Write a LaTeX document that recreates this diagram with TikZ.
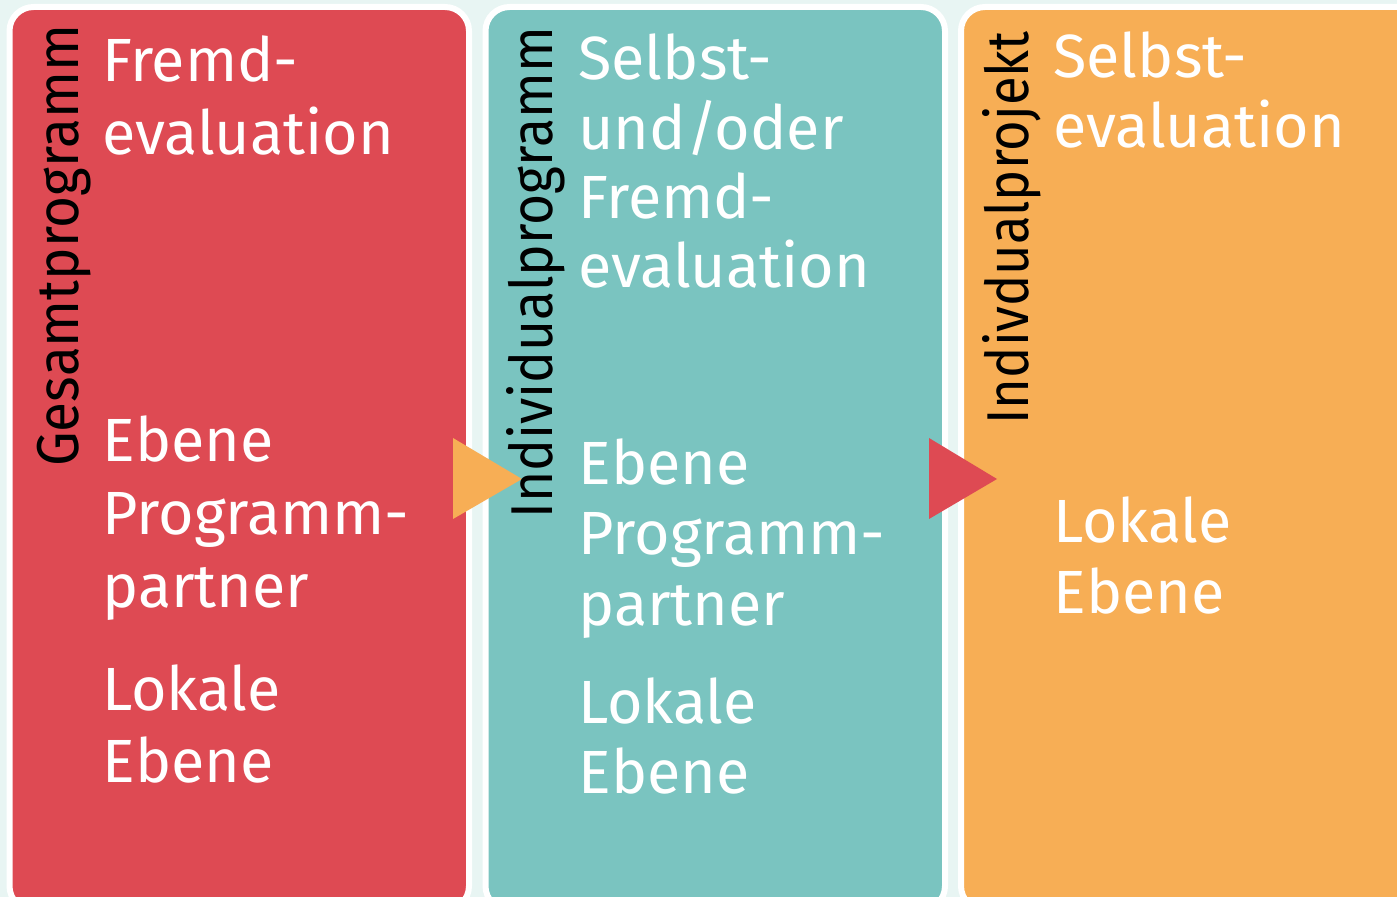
\documentclass[tikz,border=0pt]{standalone}
\usepackage{fontspec}
\setmainfont{Fira Sans}
\definecolor{bgmint}{HTML}{E8F5F3}
\definecolor{progred}{HTML}{DE4A53}
\definecolor{progteal}{HTML}{7AC4C0}
\definecolor{progorange}{HTML}{F7AE55}
\tikzset{
  colbox/.style={draw=white, line width=3pt, rounded corners=12pt},
  txt/.style={text=white, anchor=base west, inner sep=0pt, font=\fontsize{30.5}{36}\selectfont},
  vtxt/.style={text=black, anchor=base west, inner sep=0pt, rotate=90, font=\fontsize{29.5}{36}\selectfont},
}

\begin{document}
\begin{tikzpicture}[x=0.5pt,y=-0.5pt]
  \useasboundingbox (0,0) rectangle (1397,897);
  \fill[bgmint] (0,0) rectangle (1397,897);
  \begin{scope}
    \clip (0,0) rectangle (1397,897);
    % the three columns
    \draw[colbox, fill=progred] (9.5,7) rectangle (469,910);
    \draw[colbox, fill=progteal] (485.5,7) rectangle (945,910);
    \draw[colbox, fill=progorange] (961,7) rectangle (1430,910);
  \end{scope}

  % arrows between the columns
  \fill[progorange] (453,438) -- (522,479) -- (453,519) -- cycle;
  \fill[progred] (929,438) -- (997,479) -- (929,519) -- cycle;

  % side titles
  \node[vtxt, xscale=0.93] (gesamt) at (78,467) {Gesamtprogramm};
  \node[vtxt, xscale=0.905] (indiv) at (552,519) {Individualprogramm};
  \node[vtxt, xscale=0.89] (projekt) at (1028,425) {Indivdualprojekt};

  % Gesamtprogramm
  \foreach \t [count=\i from 0] in {Fremd-,evaluation}
    \node[txt] (g-top-\i) at (102,{82+73*\i}) {\t};
  \foreach \t [count=\i from 0] in {Ebene,Programm-,partner}
    \node[txt] (g-mid-\i) at (102,{462+72.5*\i}) {\t};
  \foreach \t [count=\i from 0] in {Lokale,Ebene}
    \node[txt] (g-low-\i) at (102,{710+72*\i}) {\t};

  % Individualprogramm
  \foreach \t [count=\i from 0] in {Selbst-,und/oder,Fremd-,evaluation}
    \node[txt] (i-top-\i) at (578,{80+69.3*\i}) {\t};
  \foreach \t [count=\i from 0] in {Ebene,Programm-,partner}
    \node[txt] (i-mid-\i) at (578,{485+70*\i}) {\t};
  \foreach \t [count=\i from 0] in {Lokale,Ebene}
    \node[txt] (i-low-\i) at (578,{723+70*\i}) {\t};

  % Individualprojekt
  \foreach \t [count=\i from 0] in {Selbst-,evaluation}
    \node[txt] (p-top-\i) at (1053,{78+70*\i}) {\t};
  \foreach \t [count=\i from 0] in {Lokale,Ebene}
    \node[txt] (p-low-\i) at (1053,{543+70*\i}) {\t};
\end{tikzpicture}
\end{document}
